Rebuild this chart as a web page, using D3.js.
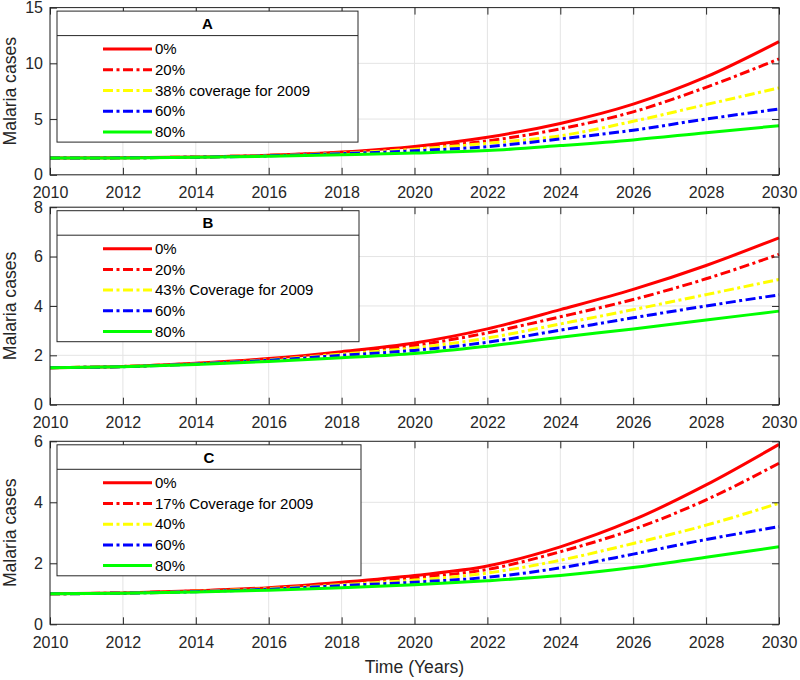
<!DOCTYPE html>
<html><head><meta charset="utf-8">
<script src="https://cdn.jsdelivr.net/npm/d3@7/dist/d3.min.js"></script>
<style>
body{margin:0;background:#fff}
svg{display:block;font-family:"Liberation Sans",Arial,Helvetica,sans-serif}
</style>
</head><body>
<svg id="chart" width="800" height="680"></svg>
<script>
// ---------- data ----------
const years = [2010,2012,2014,2016,2018,2020,2022,2024,2026,2028,2030];
const xTicks = [2010,2012,2014,2016,2018,2020,2022,2024,2026,2028,2030];

// Panel A
const aTitle = "A";
const aLabels = ["0%","20%","38% coverage for 2009","60%","80%"];
const aS0  = [1.5,1.52,1.6,1.75,2.05,2.55,3.37,4.61,6.34,8.78,11.95];
const aS20 = [1.5,1.52,1.6,1.74,2.0,2.42,3.04,4.12,5.65,7.85,10.4];
const aS38 = [1.5,1.52,1.59,1.72,1.95,2.3,2.83,3.5,4.8,6.3,7.8];
const aS60 = [1.5,1.52,1.58,1.7,1.9,2.15,2.53,3.22,4.0,5.0,5.9];
const aS80 = [1.5,1.51,1.57,1.67,1.8,1.95,2.17,2.62,3.13,3.78,4.4];
const aYTicks = [0,5,10,15];
const aYMax = 15;

// Panel B
const bTitle = "B";
const bLabels = ["0%","20%","43% Coverage for 2009","60%","80%"];
const bS0  = [1.5,1.55,1.68,1.87,2.15,2.5,3.07,3.85,4.67,5.64,6.76];
const bS20 = [1.5,1.55,1.67,1.84,2.1,2.4,2.91,3.56,4.26,5.1,6.09];
const bS43 = [1.5,1.55,1.66,1.82,2.05,2.3,2.7,3.27,3.85,4.46,5.07];
const bS60 = [1.5,1.54,1.65,1.8,2.0,2.2,2.53,3.02,3.52,4.0,4.45];
const bS80 = [1.5,1.54,1.63,1.75,1.9,2.07,2.37,2.73,3.07,3.43,3.79];
const bYTicks = [0,2,4,6,8];
const bYMax = 8;

// Panel C
const cTitle = "C";
const cLabels = ["0%","17% Coverage for 2009","40%","60%","80%"];
const cS0  = [1.0,1.03,1.1,1.2,1.38,1.6,1.91,2.54,3.42,4.57,5.9];
const cS17 = [1.0,1.03,1.09,1.18,1.34,1.53,1.8,2.38,3.11,4.08,5.28];
const cS40 = [1.0,1.02,1.08,1.17,1.3,1.45,1.68,2.1,2.65,3.25,3.97];
const cS60 = [1.0,1.02,1.07,1.15,1.27,1.38,1.54,1.85,2.3,2.78,3.2];
const cS80 = [1.0,1.02,1.06,1.12,1.2,1.3,1.43,1.6,1.86,2.2,2.54];
const cYTicks = [0,2,4,6];
const cYMax = 6;

// ---------- styles ----------
const seriesColors = ["#ff0000","#ff0000","#ffff00","#0000ff","#00ff00"];
const seriesDash   = [null,"10,3.5,3,3.5","10,3.5,3,3.5","10,3.5,3,3.5",null];

const panels = [
  {title:aTitle, labels:aLabels, series:[aS0,aS20,aS38,aS60,aS80], yTicks:aYTicks, yMax:aYMax, top:7.6, bottom:174.8, lgW:301},
  {title:bTitle, labels:bLabels, series:[bS0,bS20,bS43,bS60,bS80], yTicks:bYTicks, yMax:bYMax, top:207.2, bottom:404.7, lgW:302},
  {title:cTitle, labels:cLabels, series:[cS0,cS17,cS40,cS60,cS80], yTicks:cYTicks, yMax:cYMax, top:441.3, bottom:624.3, lgW:304}
];

const svg = d3.select("#chart");
const left = 50, right = 779;
const axisCol = "#262626";
const x = d3.scaleLinear().domain([2010,2030]).range([left,right]);

panels.forEach(p => {
  const y = d3.scaleLinear().domain([0,p.yMax]).range([p.bottom,p.top]);
  const g = svg.append("g");
  const h = p.bottom - p.top;

  // grid
  g.append("g").selectAll("line").data(xTicks).join("line")
    .attr("x1",d=>x(d)).attr("x2",d=>x(d)).attr("y1",p.top).attr("y2",p.bottom)
    .attr("stroke","#e4e4e4").attr("stroke-width",1);
  g.append("g").selectAll("line").data(p.yTicks).join("line")
    .attr("x1",left).attr("x2",right).attr("y1",d=>y(d)).attr("y2",d=>y(d))
    .attr("stroke","#e4e4e4").attr("stroke-width",1);

  // lines
  const line = d3.line().x((d,i)=>x(years[i])).y(d=>y(d)).curve(d3.curveMonotoneX);
  p.series.forEach((s,i) => {
    g.append("path").datum(s).attr("d",line)
      .attr("fill","none").attr("stroke",seriesColors[i]).attr("stroke-width",3)
      .attr("stroke-dasharray",seriesDash[i]);
  });

  // axes
  const styleAxis = sel => {
    sel.select(".domain").remove();
    sel.selectAll(".tick line").attr("stroke",axisCol);
    sel.selectAll(".tick text").attr("fill",axisCol).attr("font-size",16)
      .attr("font-family",'"Liberation Sans",Arial,Helvetica,sans-serif');
  };
  g.append("g").attr("transform",`translate(0,${p.bottom})`)
    .call(d3.axisBottom(x).tickValues(xTicks).tickFormat(d3.format("d")).tickSizeInner(-7).tickSizeOuter(0).tickPadding(12))
    .call(styleAxis);
  g.append("g").attr("transform",`translate(0,${p.top})`)
    .call(d3.axisTop(x).tickValues(xTicks).tickFormat("").tickSizeInner(-7).tickSizeOuter(0))
    .call(styleAxis);
  g.append("g").attr("transform",`translate(${left},0)`)
    .call(d3.axisLeft(y).tickValues(p.yTicks).tickFormat(d3.format("d")).tickSizeInner(-7).tickSizeOuter(0).tickPadding(7))
    .call(styleAxis);
  g.append("g").attr("transform",`translate(${right},0)`)
    .call(d3.axisRight(y).tickValues(p.yTicks).tickFormat("").tickSizeInner(-7).tickSizeOuter(0))
    .call(styleAxis);
  g.append("rect").attr("x",left).attr("y",p.top).attr("width",right-left).attr("height",h)
    .attr("fill","none").attr("stroke",axisCol).attr("stroke-width",1);

  // y label
  g.append("text").attr("transform",`translate(16,${(p.top+p.bottom)/2}) rotate(-90)`)
    .attr("text-anchor","middle").attr("font-size",17.6).attr("fill",axisCol).text("Malaria cases");

  // legend
  const lx = 57, ly = p.top + 3.5, lh = 131;
  const lg = g.append("g");
  lg.append("rect").attr("x",lx).attr("y",ly).attr("width",p.lgW).attr("height",lh)
    .attr("fill","#fff").attr("stroke",axisCol).attr("stroke-width",1);
  lg.append("line").attr("x1",lx).attr("x2",lx+p.lgW).attr("y1",ly+24.5).attr("y2",ly+24.5)
    .attr("stroke",axisCol).attr("stroke-width",1);
  lg.append("text").attr("x",lx+p.lgW/2).attr("y",ly+12.5).attr("dy","0.35em")
    .attr("text-anchor","middle").attr("font-size",15).attr("font-weight","bold").attr("fill","#000").text(p.title);
  p.labels.forEach((lab,i) => {
    const yy = ly + 38 + i*20.7;
    lg.append("line").attr("x1",103).attr("x2",152).attr("y1",yy).attr("y2",yy)
      .attr("stroke",seriesColors[i]).attr("stroke-width",3).attr("stroke-dasharray",seriesDash[i]);
    lg.append("text").attr("x",155).attr("y",yy).attr("dy","0.35em")
      .attr("font-size",15).attr("fill","#000").text(lab);
  });
});

svg.append("text").attr("x",(left+right)/2).attr("y",673)
  .attr("text-anchor","middle").attr("font-size",17.6).attr("fill",axisCol).text("Time (Years)");
</script>
</body></html>
